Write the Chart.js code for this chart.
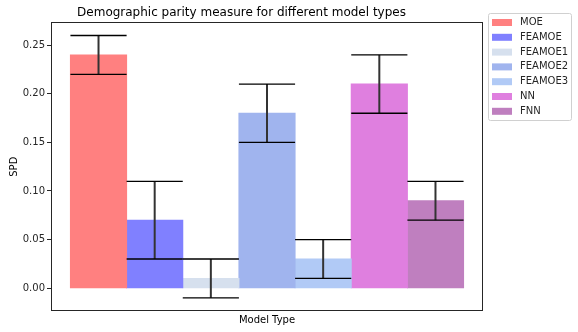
<!DOCTYPE html>
<html>
<head>
<meta charset="utf-8">
<script src="https://cdn.jsdelivr.net/npm/chart.js@4/dist/chart.umd.min.js"></script>
<style>
  html, body { margin: 0; padding: 0; background: #fff; }
  #wrap { width: 578px; height: 332px; }
</style>
</head>
<body>
<div id="wrap"><canvas id="spdChart"></canvas></div>
<script>
// data
const models = ["MOE", "FEAMOE", "FEAMOE1", "FEAMOE2", "FEAMOE3", "NN", "FNN"];
const spdMean = [0.24, 0.07, 0.01, 0.18, 0.03, 0.21, 0.09];
const spdErr = [0.02, 0.04, 0.02, 0.03, 0.02, 0.03, 0.02];
const yTicks = [0.0, 0.05, 0.1, 0.15, 0.2, 0.25];
const barColors = ["#ff8080", "#8080ff", "#d6e0ee", "#a0b4ee", "#b1caf6", "#df7fdf", "#bf7fbf"];

Chart.defaults.font.family = "'DejaVu Sans', sans-serif";
Chart.defaults.color = "#262626";

// error bars with caps over each bar
const errorBars = {
  id: "errorBars",
  afterDatasetsDraw(chart) {
    const ctx = chart.ctx;
    const y = chart.scales.y;
    ctx.save();
    chart.data.datasets.forEach((ds, i) => {
      const bar = chart.getDatasetMeta(i).data[0];
      if (!bar) return;
      const half = bar.width / 2;
      const top = y.getPixelForValue(spdMean[i] + spdErr[i]);
      const bot = y.getPixelForValue(spdMean[i] - spdErr[i]);
      ctx.strokeStyle = "#333";
      ctx.lineWidth = 2;
      ctx.beginPath();
      ctx.moveTo(bar.x, top);
      ctx.lineTo(bar.x, bot);
      ctx.stroke();
      ctx.strokeStyle = "#000";
      ctx.lineWidth = 1.3;
      ctx.beginPath();
      ctx.moveTo(bar.x - half, top);
      ctx.lineTo(bar.x + half, top);
      ctx.moveTo(bar.x - half, bot);
      ctx.lineTo(bar.x + half, bot);
      ctx.stroke();
    });
    ctx.restore();
  },
};

// plot frame + legend box outside on the right
const frameAndLegend = {
  id: "frameAndLegend",
  afterDraw(chart) {
    const ctx = chart.ctx;
    const a = chart.chartArea;
    ctx.save();
    ctx.strokeStyle = "#262626";
    ctx.lineWidth = 1;
    ctx.strokeRect(Math.round(a.left) + 0.5, Math.round(a.top) + 0.5,
      Math.round(a.right - a.left) - 1, Math.round(a.bottom - a.top) - 1);

    // legend
    const lx = 488.5, ly = 13.5, lw = 83, lh = 107;
    ctx.strokeStyle = "#d0d0d0";
    ctx.fillStyle = "rgba(255,255,255,0.8)";
    ctx.beginPath();
    ctx.roundRect(lx, ly, lw, lh, 2);
    ctx.fill();
    ctx.stroke();
    ctx.font = "10px 'DejaVu Sans', sans-serif";
    ctx.textBaseline = "middle";
    ctx.textAlign = "left";
    chart.data.datasets.forEach((ds, i) => {
      const cy = 22.5 + i * 14.8;
      ctx.fillStyle = ds.backgroundColor;
      ctx.fillRect(492, cy - 3.5, 20, 7);
      ctx.fillStyle = "#262626";
      ctx.fillText(ds.label, 520, cy);
    });
    ctx.restore();
  },
};

new Chart(document.getElementById("spdChart"), {
  type: "bar",
  data: {
    labels: [""],
    datasets: models.map((m, i) => ({
      label: m,
      data: [spdMean[i]],
      backgroundColor: barColors[i],
      borderWidth: 0,
      inflateAmount: 0.5,
    })),
  },
  options: {
    responsive: true,
    maintainAspectRatio: false,
    animation: false,
    categoryPercentage: 0.91,
    barPercentage: 1.0,
    layout: { padding: { left: 0, right: 95, top: 0, bottom: 0 } },
    scales: {
      x: {
        grid: { display: false },
        border: { display: false },
        ticks: { display: false },
        title: {
          display: true,
          text: "Model Type",
          font: { size: 10 },
          color: "#000",
          padding: { top: 3, bottom: 6 },
        },
        afterFit: (scale) => { scale.height = 21; },
      },
      y: {
        min: -0.0235,
        max: 0.2735,
        grid: { drawOnChartArea: false, drawTicks: true, tickLength: 4, color: "#262626" },
        border: { display: false },
        ticks: {
          padding: 2,
          font: { size: 10 },
          color: "#262626",
          callback: (v) => Number(v).toFixed(2),
        },
        afterBuildTicks: (scale) => { scale.ticks = yTicks.map((v) => ({ value: v })); },
        title: {
          display: true,
          text: "SPD",
          font: { size: 10 },
          color: "#000",
          padding: { top: 8, bottom: 2 },
        },
        afterFit: (scale) => { scale.width = 51; },
      },
    },
    plugins: {
      legend: { display: false },
      tooltip: { enabled: false },
      title: {
        display: true,
        text: "Demographic parity measure for different model types",
        font: { size: 12, weight: "normal" },
        color: "#000",
        padding: { top: 6, bottom: 2 },
      },
    },
  },
  plugins: [errorBars, frameAndLegend],
});
</script>
</body>
</html>
